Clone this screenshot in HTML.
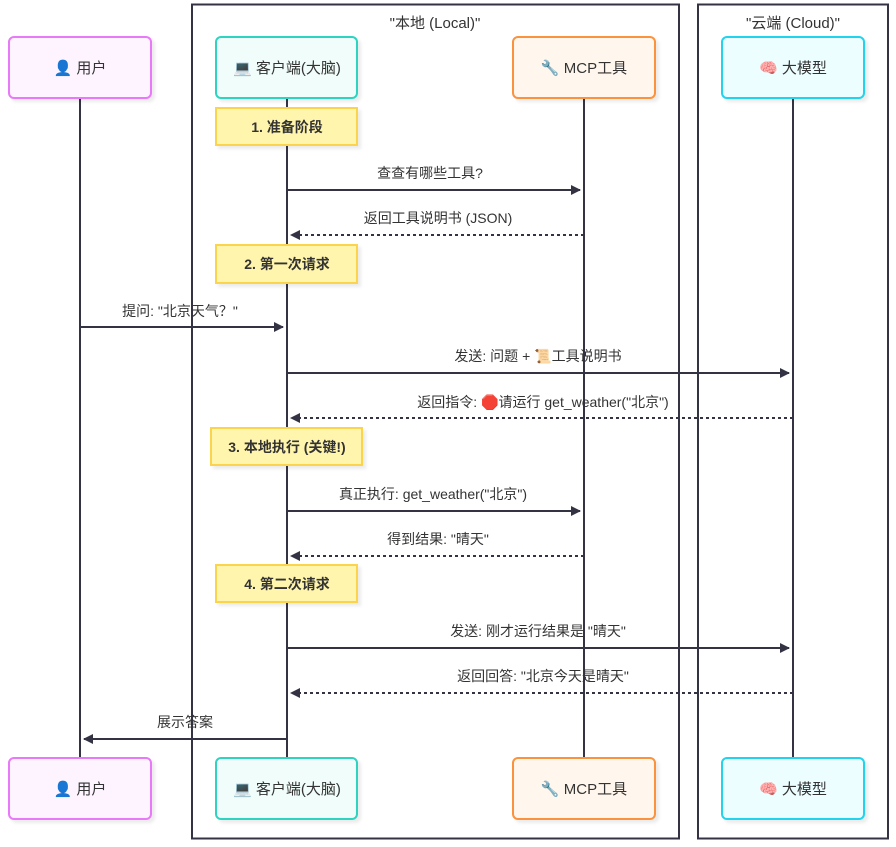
<!DOCTYPE html>
<html><head><meta charset="utf-8"><style>
body{margin:0;background:#fff}
text{font-family:"Liberation Sans","Noto Sans CJK SC",sans-serif;font-size:14px;fill:#333;}
.p{font-size:15px}
</style></head><body>
<svg width="896" height="842" xmlns="http://www.w3.org/2000/svg">
<defs>
<marker id="a" markerWidth="10" markerHeight="10" refX="9" refY="5" orient="auto" markerUnits="userSpaceOnUse"><path d="M0,0 L10,5 L0,10 z" fill="#333344"/></marker>
<filter id="s"><feDropShadow dx="3" dy="3" stdDeviation="1.5" flood-color="#000" flood-opacity="0.08"/></filter>
</defs>
<rect x="192" y="4.5" width="487" height="834" fill="none" stroke="#333344" stroke-width="2"/>
<rect x="698" y="4.5" width="190" height="834" fill="none" stroke="#333344" stroke-width="2"/>
<text x="435" y="28" text-anchor="middle" class="p">"本地 (Local)"</text>
<text x="793" y="28" text-anchor="middle" class="p">"云端 (Cloud)"</text>
<g stroke="#333344" stroke-width="2">
<line x1="80" y1="98" x2="80" y2="758"/><line x1="287" y1="98" x2="287" y2="758"/>
<line x1="584" y1="98" x2="584" y2="758"/><line x1="793" y1="98" x2="793" y2="758"/>
</g>
<g filter="url(#s)" stroke-width="2">
<rect x="9" y="37" width="142" height="61" rx="5" fill="#fdf4ff" stroke="#e879f9"/>
<rect x="216" y="37" width="141" height="61" rx="5" fill="#f0fdfa" stroke="#2dd4bf"/>
<rect x="513" y="37" width="142" height="61" rx="5" fill="#fff7ed" stroke="#fb923c"/>
<rect x="722" y="37" width="142" height="61" rx="5" fill="#ecfeff" stroke="#22d3ee"/>
<rect x="9" y="758" width="142" height="61" rx="5" fill="#fdf4ff" stroke="#e879f9"/>
<rect x="216" y="758" width="141" height="61" rx="5" fill="#f0fdfa" stroke="#2dd4bf"/>
<rect x="513" y="758" width="142" height="61" rx="5" fill="#fff7ed" stroke="#fb923c"/>
<rect x="722" y="758" width="142" height="61" rx="5" fill="#ecfeff" stroke="#22d3ee"/>
</g>
<g text-anchor="middle">
<text class="p" x="80" y="73">👤 用户</text><text class="p" x="287" y="73">💻 客户端(大脑)</text>
<text class="p" x="584" y="73">🔧 MCP工具</text><text class="p" x="793" y="73">🧠 大模型</text>
<text class="p" x="80" y="794">👤 用户</text><text class="p" x="287" y="794">💻 客户端(大脑)</text>
<text class="p" x="584" y="794">🔧 MCP工具</text><text class="p" x="793" y="794">🧠 大模型</text>
</g>
<g filter="url(#s)" fill="#fff5ad" stroke="#fcd34d" stroke-width="2">
<rect x="216" y="108" width="141" height="37"/>
<rect x="216" y="245" width="141" height="38"/>
<rect x="211" y="428" width="151" height="37"/>
<rect x="216" y="565" width="141" height="37"/>
</g>
<g text-anchor="middle">
<text x="287" y="132" style="font-weight:bold">1. 准备阶段</text>
<text x="287" y="269" style="font-weight:bold">2. 第一次请求</text>
<text x="287" y="452" style="font-weight:bold">3. 本地执行 (关键!)</text>
<text x="287" y="589" style="font-weight:bold">4. 第二次请求</text>
</g>
<g stroke="#333344" stroke-width="2" marker-end="url(#a)">
<line x1="287" y1="190" x2="580" y2="190"/>
<line x1="584" y1="235" x2="291" y2="235" stroke-dasharray="3,3"/>
<line x1="80" y1="327" x2="283" y2="327"/>
<line x1="287" y1="373" x2="789" y2="373"/>
<line x1="793" y1="418" x2="291" y2="418" stroke-dasharray="3,3"/>
<line x1="287" y1="511" x2="580" y2="511"/>
<line x1="584" y1="556" x2="291" y2="556" stroke-dasharray="3,3"/>
<line x1="287" y1="648" x2="789" y2="648"/>
<line x1="793" y1="693" x2="291" y2="693" stroke-dasharray="3,3"/>
<line x1="287" y1="739" x2="84" y2="739"/>
</g>
<g text-anchor="middle">
<text x="430" y="178">查查有哪些工具?</text>
<text x="438" y="223">返回工具说明书 (JSON)</text>
<text x="180" y="316">提问: "北京天气？"</text>
<text x="538" y="361">发送: 问题 + 📜工具说明书</text>
<text x="543" y="407">返回指令: 🛑请运行 get_weather("北京")</text>
<text x="433" y="499">真正执行: get_weather("北京")</text>
<text x="438" y="544">得到结果: "晴天"</text>
<text x="538" y="636">发送: 刚才运行结果是 "晴天"</text>
<text x="543" y="681">返回回答: "北京今天是晴天"</text>
<text x="185" y="727">展示答案</text>
</g>
</svg>
</body></html>
